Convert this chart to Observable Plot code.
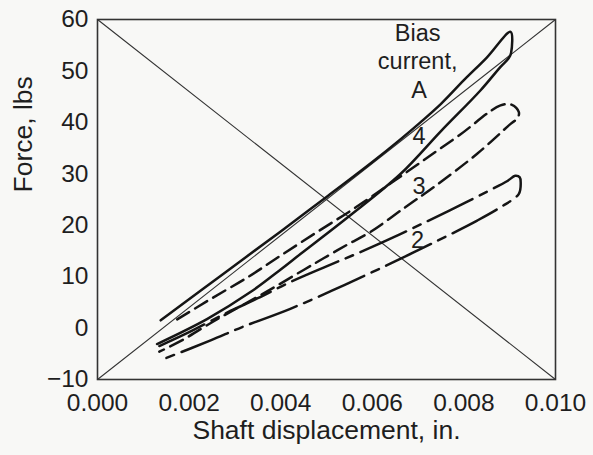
<!DOCTYPE html>
<html><head><meta charset="utf-8">
<script src="https://cdn.jsdelivr.net/npm/d3@7"></script>
<script src="https://cdn.jsdelivr.net/npm/@observablehq/plot@0.6"></script>
<style>
html,body{margin:0;padding:0;background:#f8f8f6;}
</style></head><body><div id="chart"></div>
<script>
// Tick values
const xTicks = [0, 0.002, 0.004, 0.006, 0.008, 0.010];
const yTicks = [-10, 0, 10, 20, 30, 40, 50, 60];

// Bias current 4 A (solid): loading branch, right end, unloading branch
const bias4X = [0.00138, 0.0023, 0.00312, 0.0040, 0.0050, 0.0060, 0.0066, 0.00705, 0.0075, 0.0080, 0.0085, 0.00902, 0.00903, 0.00898, 0.0088, 0.00836, 0.0075, 0.00662, 0.0055, 0.00443, 0.0040, 0.00334, 0.0024, 0.0013];
const bias4Y = [1.5, 7.6, 13.0, 18.8, 25.5, 32.3, 36.6, 40.0, 43.6, 48.2, 52.6, 57.6, 53.5, 52.5, 50.8, 46.2, 38.3, 30.0, 21.8, 14.4, 11.4, 7.0, 1.8, -3.1];

// Bias current 3 A (dashed)
const bias3X = [0.00174, 0.0025, 0.0033, 0.0040, 0.0048, 0.00556, 0.0063, 0.00705, 0.0079, 0.0088, 0.00905, 0.0092, 0.00917, 0.00902, 0.00829, 0.00734, 0.00672, 0.00596, 0.00545, 0.00502, 0.0045, 0.0036, 0.00269, 0.00225, 0.00188, 0.00135];
const bias3Y = [1.7, 5.8, 10.0, 14.1, 18.7, 23.0, 27.5, 32.2, 37.5, 43.3, 43.4, 42.0, 40.8, 39.7, 33.9, 27.4, 23.5, 18.7, 16.2, 14.0, 11.3, 6.6, 2.1, -0.2, -2.2, -4.6];

// Bias current 2 A (dash-dot)
const bias2X = [0.00135, 0.0020, 0.00283, 0.0035, 0.0042, 0.0050, 0.0058, 0.0066, 0.0073, 0.0079, 0.0085, 0.00895, 0.00912, 0.00922, 0.00924, 0.0092, 0.0088, 0.00829, 0.00727, 0.00662, 0.0054, 0.00421, 0.00316, 0.00247, 0.00145];
const bias2Y = [-3.5, -0.8, 3.0, 5.8, 8.9, 12.0, 15.0, 18.2, 21.2, 23.8, 26.5, 28.6, 29.6, 29.3, 28.2, 26.1, 23.5, 20.9, 16.3, 13.5, 8.4, 3.75, 0.2, -2.4, -6.0];

// Diagonal reference lines
const diagRiseX = [0, 0.010], diagRiseY = [-10, 60];
const diagFallX = [0, 0.010], diagFallY = [60, -10];

// Annotations
const labelText = ["Bias", "current,", "A", "4", "3", "2"];
const labelX = [0.00699, 0.00699, 0.00702, 0.00702, 0.00702, 0.00699];
const labelY = [57.3, 51.8, 46.25, 37.2, 27.5, 17.1];

const zip = (xs, ys) => xs.map((x, i) => ({x, y: ys[i]}));
const labels = labelText.map((t, i) => ({text: t, x: labelX[i], y: labelY[i]}));

const ink = "#151515";
const chart = Plot.plot({
  width: 593,
  height: 455,
  marginLeft: 97,
  marginRight: 38,
  marginTop: 19,
  marginBottom: 76,
  style: {background: "#f8f8f6", color: "#1e1e1e", fontFamily: "'Liberation Sans', Arial, Helvetica, sans-serif", fontSize: "24.5px"},
  x: {domain: [0, 0.010], ticks: xTicks, tickFormat: d3.format(".3f"), tickSize: 0, tickPadding: 14, label: null},
  y: {domain: [-10, 60], ticks: yTicks, tickSize: 0, tickPadding: 9, label: null},
  marks: [
    Plot.line(zip(diagRiseX, diagRiseY), {x: "x", y: "y", stroke: "#333", strokeWidth: 1.1}),
    Plot.line(zip(diagFallX, diagFallY), {x: "x", y: "y", stroke: "#333", strokeWidth: 1.1}),
    Plot.line(zip(bias4X, bias4Y), {x: "x", y: "y", stroke: ink, strokeWidth: 2.5, curve: "catmull-rom"}),
    Plot.line(zip(bias3X, bias3Y), {x: "x", y: "y", stroke: ink, strokeWidth: 2.5, strokeDasharray: "14,7", curve: "catmull-rom"}),
    Plot.line(zip(bias2X, bias2Y), {x: "x", y: "y", stroke: ink, strokeWidth: 2.5, strokeDasharray: "50,8,8,8", curve: "catmull-rom"}),
    Plot.text(labels, {x: "x", y: "y", text: "text", fontSize: 23.5, fill: "#1e1e1e"}),
    Plot.frame({stroke: "#333", strokeWidth: 1.6}),
    Plot.text(["Force, lbs"], {text: d => d, frameAnchor: "left", dx: -74, dy: -7, rotate: -90, fontSize: 26.5, fill: "#1e1e1e"}),
    Plot.text(["Shaft displacement, in."], {text: d => d, frameAnchor: "bottom", dy: 59, fontSize: 26.5, fill: "#1e1e1e"})
  ]
});
document.getElementById("chart").appendChild(chart);
</script></body></html>
